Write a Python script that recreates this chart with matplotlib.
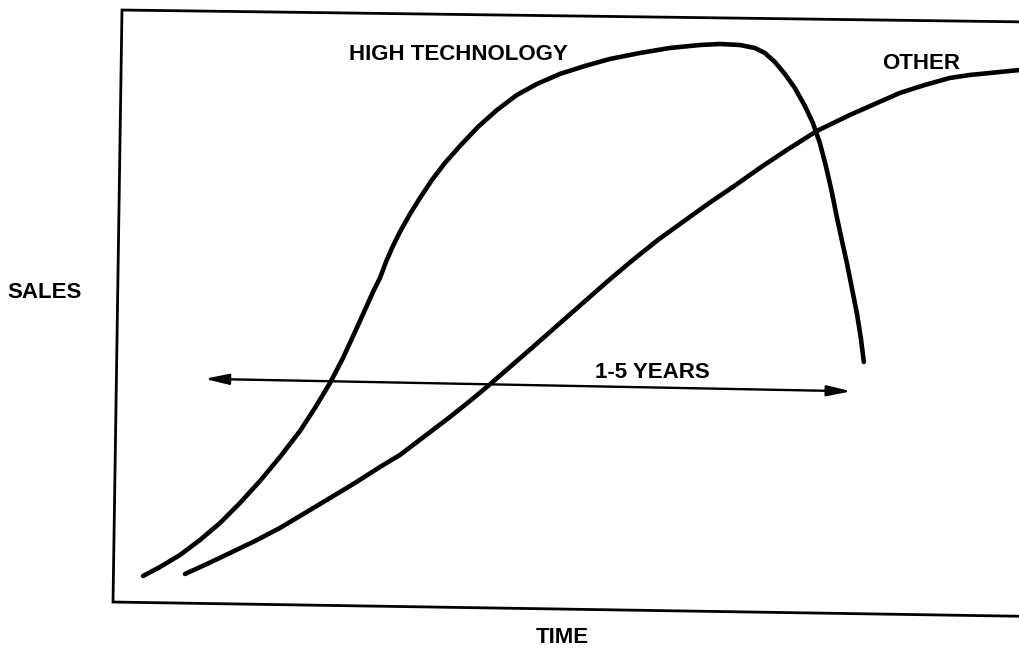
import matplotlib
matplotlib.use("Agg")
import matplotlib.pyplot as plt

# values (time 0-100 across the frame, sales 0-100 up the frame)
hightech_time = [3.31, 5.18, 7.39, 9.59, 11.80, 14.00, 16.21, 18.41, 20.62, 22.27,
                 23.93, 25.36, 26.68, 27.78, 28.67, 29.44, 30.10, 30.87, 31.64, 32.75,
                 33.85, 35.17, 36.60, 38.26, 40.24, 42.34, 44.54, 46.75, 49.28, 52.04,
                 54.80, 58.10, 61.41, 64.72, 66.92, 69.13, 70.78, 71.89, 72.99, 74.09,
                 75.19, 76.30, 77.18, 77.95, 78.61, 79.27, 79.82, 80.37, 80.93, 81.48,
                 82.03, 82.47, 82.80]
hightech_sales = [4.90, 6.42, 8.45, 10.98, 13.85, 17.23, 20.95, 25.00, 29.39, 33.28,
                  37.50, 41.72, 46.11, 49.83, 52.87, 55.24, 57.94, 60.64, 63.01, 66.05,
                  68.75, 71.79, 74.66, 77.53, 80.74, 83.61, 86.15, 88.01, 89.70, 91.05,
                  92.23, 93.24, 94.09, 94.59, 94.76, 94.59, 94.09, 93.24, 91.72, 89.70,
                  87.33, 84.29, 81.42, 78.04, 74.16, 69.76, 65.54, 61.66, 57.77, 53.55,
                  49.32, 45.10, 41.05]

other_time = [7.94, 10.36, 12.90, 15.66, 18.41, 21.17, 23.93, 26.68, 29.44, 31.64,
              34.40, 37.16, 39.36, 41.35, 43.77, 46.31, 49.06, 51.82, 54.58, 57.33,
              60.09, 62.84, 65.60, 68.36, 71.33, 74.31, 77.62, 81.26, 84.01, 86.77,
              89.53, 92.28, 94.49, 96.69, 100.0]
other_sales = [5.24, 6.93, 8.78, 10.81, 13.01, 15.54, 18.07, 20.61, 23.31, 25.34,
               28.55, 31.76, 34.46, 36.99, 40.20, 43.58, 47.30, 51.01, 54.73, 58.28,
               61.66, 64.70, 67.74, 70.61, 73.82, 76.86, 80.07, 82.77, 84.63, 86.49,
               87.84, 89.02, 89.53, 89.86, 90.37]

span_time = [10.1, 81.4]
span_sales = [38.2, 36.1]

font = "Liberation Sans"

fig = plt.figure(figsize=(10.2, 6.52), dpi=100)
ax = fig.add_axes([0.1108, 0.0721, 0.889, 0.908])
ax.set_xlim(0, 100)
ax.set_ylim(0, 100)
ax.axis("off")

# scanned frame is slightly tilted, open on the right
ax.plot([1.0, 0.0099, 0.0, 1.0], [0.985, 1.005, 0.005, -0.019],
        transform=ax.transAxes, clip_on=False, color="black", lw=2.0,
        solid_joinstyle="miter")

ax.plot(hightech_time, hightech_sales, color="black", lw=3.3,
        solid_capstyle="round", solid_joinstyle="round", clip_on=False)
ax.plot(other_time, other_sales, color="black", lw=3.3,
        solid_capstyle="round", solid_joinstyle="round", clip_on=False)

ax.annotate("", xy=(span_time[1], span_sales[1]), xytext=(span_time[0], span_sales[0]),
            arrowprops=dict(arrowstyle="<|-|>,head_length=0.9,head_width=0.2",
                            color="black", lw=1.7, mutation_scale=16,
                            shrinkA=0, shrinkB=0))

ax.text(38.1, 93.0, "HIGH TECHNOLOGY", ha="center", va="center",
        fontsize=16, fontweight="bold", family=font)
ax.text(89.1, 91.5, "OTHER", ha="center", va="center",
        fontsize=16, fontweight="bold", family=font)
ax.text(59.5, 39.2, "1-5 YEARS", ha="center", va="center",
        fontsize=16, fontweight="bold", family=font)

fig.text(0.044, 0.552, "SALES", ha="center", va="center",
         fontsize=16, fontweight="bold", family=font)
fig.text(0.551, 0.023, "TIME", ha="center", va="center",
         fontsize=16, fontweight="bold", family=font)

fig.savefig("out.png", dpi=100)
